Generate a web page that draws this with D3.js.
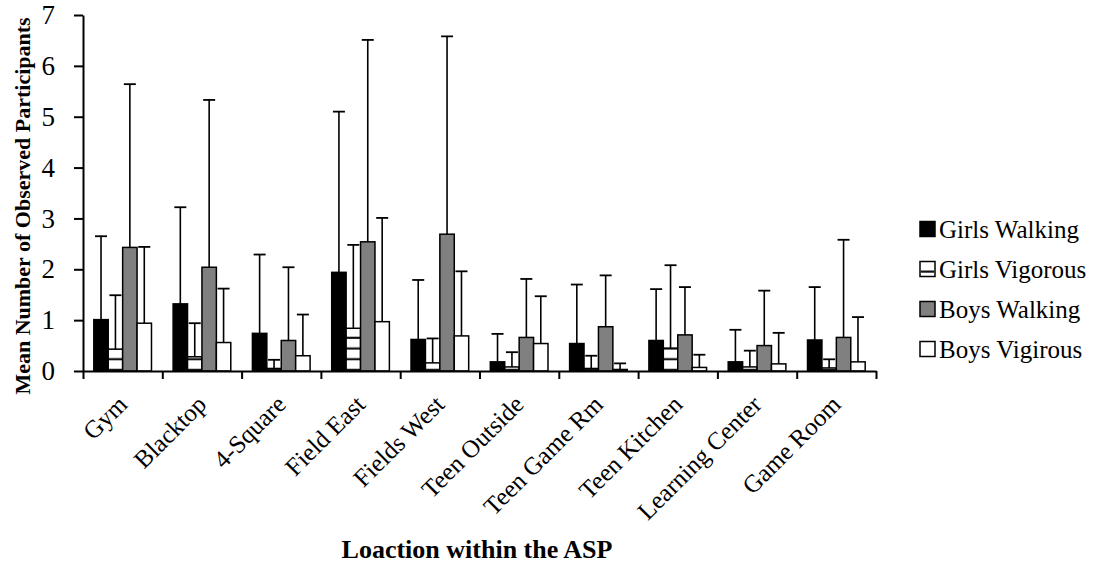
<!DOCTYPE html>
<html>
<head>
<meta charset="utf-8">
<script src="https://cdn.jsdelivr.net/npm/d3@7"></script>
<style>
  body { margin: 0; background: #fff; }
  svg text { font-family: "Liberation Serif", "Times New Roman", serif !important; fill: #000; }
</style>
</head>
<body>
<script>
let width = 1101;
let height = 571;

let categories = ["Gym", "Blacktop", "4-Square", "Field East", "Fields West", "Teen Outside", "Teen Game Rm", "Teen Kitchen", "Learning Center", "Game Room"];
let seriesNames = ["Girls Walking", "Girls Vigorous", "Boys Walking", "Boys Vigirous"];

// means
let girlsWalking  = [1.01, 1.32, 0.74, 1.94, 0.62, 0.18, 0.54, 0.60, 0.18, 0.61];
let girlsVigorous = [0.43, 0.28, 0.05, 0.84, 0.16, 0.08, 0.05, 0.45, 0.08, 0.06];
let boysWalking   = [2.43, 2.04, 0.60, 2.54, 2.69, 0.66, 0.87, 0.71, 0.50, 0.66];
let boysVigirous  = [0.94, 0.56, 0.30, 0.97, 0.69, 0.54, 0.03, 0.07, 0.14, 0.18];

// standard deviations (upper error bars)
let girlsWalkingSD  = [1.64, 1.90, 1.55, 3.16, 1.17, 0.55, 1.16, 1.01, 0.63, 1.04];
let girlsVigorousSD = [1.06, 0.66, 0.17, 1.64, 0.48, 0.29, 0.25, 1.63, 0.32, 0.17];
let boysWalkingSD   = [3.21, 3.29, 1.44, 3.97, 3.89, 1.15, 1.01, 0.94, 1.08, 1.92];
let boysVigirousSD  = [1.50, 1.06, 0.81, 2.04, 1.27, 0.93, 0.12, 0.25, 0.61, 0.88];

let yTicks = [0, 1, 2, 3, 4, 5, 6, 7];

let means = [girlsWalking, girlsVigorous, boysWalking, boysVigirous];
let sds = [girlsWalkingSD, girlsVigorousSD, boysWalkingSD, boysVigirousSD];
let fills = ["#000000", "url(#hstripe)", "#808080", "#ffffff"];

let dataArray = [];
categories.forEach(function(c, i){
    seriesNames.forEach(function(s, j){
        dataArray.push({cat: c, series: s, value: means[j][i], sd: sds[j][i], fill: fills[j]});
    });
});

let serif = "'Liberation Serif', 'Times New Roman', serif";
let plotLeft = 83, plotRight = 876, plotTop = 15, plotBottom = 371;

let svg = d3.select("body").append("svg");
svg.attr("width", width).attr("height", height).attr("font-family", serif);

let y = d3.scaleLinear().domain([0, 7]).range([plotBottom, plotTop]);
let x = d3.scaleBand().domain(categories).range([plotLeft, plotRight]).paddingInner(0).paddingOuter(0);
let barW = x.bandwidth() / 5.5;
let x1 = d3.scaleBand().domain(seriesNames).range([0, barW * 4]);
let groupOffset = (x.bandwidth() - barW * 4) / 2;

// horizontal stripe pattern, anchored on the baseline
let defs = svg.append("defs");
let period = 10.7;
let pat = defs.append("pattern")
    .attr("id", "hstripe")
    .attr("patternUnits", "userSpaceOnUse")
    .attr("width", 20)
    .attr("height", period)
    .attr("y", plotBottom % period);
pat.append("rect").attr("width", 20).attr("height", period).attr("fill", "#fff");
pat.append("rect").attr("x", 0).attr("y", period - 2.2).attr("width", 20).attr("height", 2.2).attr("fill", "#111");

let chartGroup = svg.append("g").attr("class", "chartGroup");

// bars
chartGroup.selectAll("rect.bar")
    .data(dataArray)
    .enter()
    .append("rect")
        .attr("class", "bar")
        .attr("x", function(d){ return x(d.cat) + groupOffset + x1(d.series); })
        .attr("y", function(d){ return y(d.value); })
        .attr("width", barW)
        .attr("height", function(d){ return y(0) - y(d.value); })
        .attr("fill", function(d){ return d.fill; })
        .attr("stroke", "#000")
        .attr("stroke-width", 1.5)
;

// error bars (upper only)
let errG = chartGroup.selectAll("g.err")
    .data(dataArray)
    .enter()
    .append("g")
        .attr("class", "err")
        .attr("transform", function(d){
            return "translate(" + (x(d.cat) + groupOffset + x1(d.series) + barW / 2) + ",0)";
        });
errG.append("line")
    .attr("x1", 0).attr("x2", 0)
    .attr("y1", function(d){ return y(d.value); })
    .attr("y2", function(d){ return y(d.value + d.sd); })
    .attr("stroke", "#000").attr("stroke-width", 1.6);
errG.append("line")
    .attr("x1", -6).attr("x2", 6)
    .attr("y1", function(d){ return y(d.value + d.sd); })
    .attr("y2", function(d){ return y(d.value + d.sd); })
    .attr("stroke", "#000").attr("stroke-width", 1.8);

// y axis
let yAxis = svg.append("g")
    .attr("transform", "translate(" + plotLeft + ",0)")
    .call(d3.axisLeft(y).tickValues(yTicks).tickFormat(d3.format("d")).tickSize(9).tickPadding(19).tickSizeOuter(0));
yAxis.attr("font-family", serif).attr("font-size", 27);
yAxis.select(".domain").attr("stroke-width", 2);
yAxis.selectAll(".tick line").attr("stroke-width", 2);

// x axis: tick marks at category boundaries
let xb = d3.scaleLinear().domain([0, categories.length]).range([plotLeft, plotRight]);
let xAxis = svg.append("g")
    .attr("transform", "translate(0," + plotBottom + ")")
    .call(d3.axisBottom(xb).ticks(categories.length).tickSize(8).tickFormat("").tickSizeOuter(0));
xAxis.select(".domain").attr("stroke-width", 2);
xAxis.selectAll(".tick line").attr("stroke-width", 2);

// rotated category labels
svg.append("g").selectAll("text.cat")
    .data(categories)
    .enter()
    .append("text")
        .attr("class", "cat")
        .attr("text-anchor", "end")
        .attr("font-size", 25)
        .attr("transform", function(d){
            return "translate(" + (x(d) + x.bandwidth() / 2 + 6) + "," + (plotBottom + 35) + ") rotate(-45)";
        })
        .text(function(d){ return d; })
;

// axis titles
svg.append("text")
    .attr("text-anchor", "middle")
    .attr("transform", "translate(30,206) rotate(-90)")
    .attr("font-size", 22)
    .attr("font-weight", "bold")
    .text("Mean Number of Observed Participants");

svg.append("text")
    .attr("x", 477)
    .attr("y", 558)
    .attr("text-anchor", "middle")
    .attr("font-size", 26)
    .attr("font-weight", "bold")
    .text("Loaction within the ASP");

// legend
let legend = svg.append("g").attr("class", "legend");
let legendItems = legend.selectAll("g")
    .data(seriesNames)
    .enter()
    .append("g")
        .attr("transform", function(d, i){ return "translate(920," + (229 + i * 40) + ")"; });
legendItems.append("rect")
    .attr("x", 0).attr("y", -7.5)
    .attr("width", 15).attr("height", 15)
    .attr("fill", function(d, i){ return i === 1 ? "#fff" : fills[i]; })
    .attr("stroke", "#000")
    .attr("stroke-width", 1.5);
legendItems.filter(function(d, i){ return i === 1; })
    .append("rect")
        .attr("x", 0.75).attr("y", 1.5)
        .attr("width", 13.5).attr("height", 2.2)
        .attr("fill", "#111");
legendItems.append("text")
    .attr("x", 19)
    .attr("y", 0)
    .attr("dy", "0.35em")
    .attr("font-size", 25)
    .text(function(d){ return d; });
</script>
</body>
</html>
